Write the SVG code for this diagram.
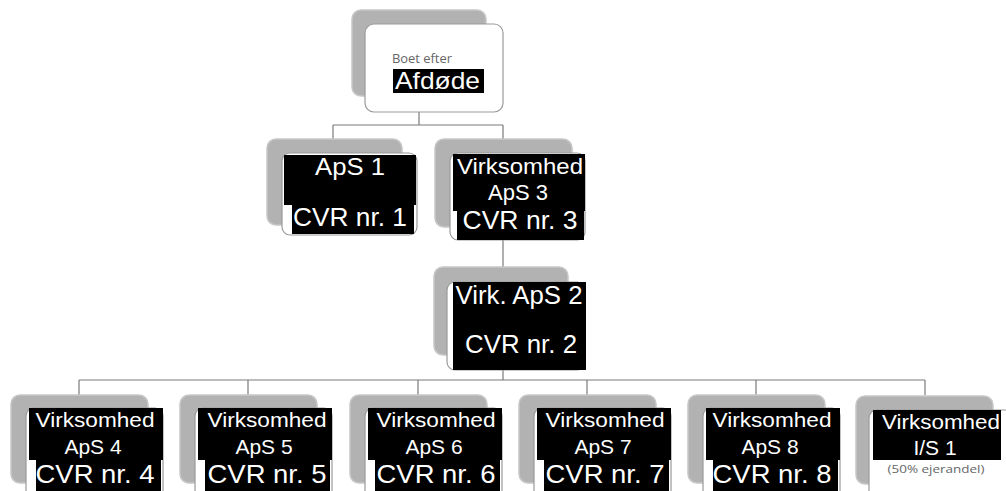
<svg xmlns="http://www.w3.org/2000/svg" width="1006" height="491" viewBox="0 0 1006 491">
<style>
.bg{fill:#ffffff}
.sh{fill:#b2b2b2;stroke:#c8c8c8;stroke-width:1.5}
.fr{fill:#ffffff;stroke:#9a9a9a;stroke-width:1.2}
.blk{fill:#000000}
.con{fill:none;stroke:#7a7a7a;stroke-width:1.2}
.t{font-family:"Liberation Sans",Arial,sans-serif;fill:#ffffff;text-anchor:middle}
.s{font-family:"Open Sans","Liberation Sans",sans-serif;fill:#666666;font-size:11px}
</style>
<rect class="bg" x="0" y="0" width="1006" height="491"/>
<g id="connectors">
<path class="con" d="M419 112V125M333 125H503M333 125V139M503 125V153"/>
<path class="con" d="M503 240V267"/>
<path class="con" d="M503 370V380M79 380H925M79 380V395M248 380V395M418 380V395M587 380V395M756 380V395M925 380V395"/>
</g>
<g id="node-afdoede">
<rect class="sh" x="352" y="10" width="134" height="86" rx="9"/>
<rect class="fr" x="365" y="24" width="138" height="88" rx="9"/>
<text class="s" x="392" y="63" textLength="60" lengthAdjust="spacingAndGlyphs" style="font-size:12px">Boet efter</text>
<rect class="blk" x="393" y="69" width="91" height="24"/>
<text class="t" x="437.5" y="89" font-size="24" textLength="85" lengthAdjust="spacingAndGlyphs">Afdøde</text>
</g>
<g id="node-aps1">
<rect class="sh" x="267" y="139" width="135" height="86" rx="9"/>
<rect class="fr" x="282" y="153" width="135" height="82" rx="8"/>
<rect class="blk" x="284" y="155" width="132" height="50"/>
<rect class="blk" x="292" y="204" width="122" height="30"/>
<text class="t" x="350" y="175" font-size="24" textLength="70" lengthAdjust="spacingAndGlyphs">ApS 1</text>
<text class="t" x="350" y="226" font-size="26" textLength="114" lengthAdjust="spacingAndGlyphs">CVR nr. 1</text>
</g>
<g id="node-aps3">
<rect class="sh" x="435" y="139" width="137" height="88" rx="9"/>
<rect class="fr" x="450" y="153" width="135" height="87" rx="8"/>
<rect class="blk" x="453" y="154" width="132" height="57"/>
<rect class="blk" x="457" y="210" width="127" height="30"/>
<text class="t" x="520" y="174" font-size="22" textLength="126" lengthAdjust="spacingAndGlyphs">Virksomhed</text>
<text class="t" x="518" y="200" font-size="22">ApS 3</text>
<text class="t" x="520" y="229" font-size="26" textLength="115" lengthAdjust="spacingAndGlyphs">CVR nr. 3</text>
</g>
<g id="node-aps2">
<rect class="sh" x="434" y="267" width="134" height="88" rx="9"/>
<rect class="fr" x="447" y="282" width="138" height="88" rx="8"/>
<rect class="blk" x="453" y="282" width="133" height="88"/>
<text class="t" x="519" y="304" font-size="25" textLength="127" lengthAdjust="spacingAndGlyphs">Virk. ApS 2</text>
<text class="t" x="521" y="353" font-size="25" textLength="112" lengthAdjust="spacingAndGlyphs">CVR nr. 2</text>
</g>
<g id="node-aps4">
<rect class="sh" x="11" y="395" width="137" height="88" rx="9"/>
<rect class="fr" x="26" y="408" width="137" height="92" rx="8"/>
<rect class="blk" x="29" y="408" width="134" height="52"/>
<rect class="blk" x="36" y="459" width="125" height="32"/>
<text class="t" x="95" y="427" font-size="21" textLength="119" lengthAdjust="spacingAndGlyphs">Virksomhed</text>
<text class="t" x="93" y="454" font-size="21">ApS 4</text>
<text class="t" x="95" y="483" font-size="25" textLength="119" lengthAdjust="spacingAndGlyphs">CVR nr. 4</text>
</g>
<g id="node-aps5">
<rect class="sh" x="180" y="395" width="137" height="88" rx="9"/>
<rect class="fr" x="195" y="408" width="137" height="92" rx="8"/>
<rect class="blk" x="198" y="408" width="134" height="52"/>
<rect class="blk" x="205" y="459" width="125" height="32"/>
<text class="t" x="267" y="427" font-size="21" textLength="119" lengthAdjust="spacingAndGlyphs">Virksomhed</text>
<text class="t" x="264" y="454" font-size="21">ApS 5</text>
<text class="t" x="267" y="483" font-size="25" textLength="119" lengthAdjust="spacingAndGlyphs">CVR nr. 5</text>
</g>
<g id="node-aps6">
<rect class="sh" x="350" y="395" width="137" height="88" rx="9"/>
<rect class="fr" x="365" y="408" width="137" height="92" rx="8"/>
<rect class="blk" x="368" y="408" width="134" height="52"/>
<rect class="blk" x="375" y="459" width="125" height="32"/>
<text class="t" x="436" y="427" font-size="21" textLength="119" lengthAdjust="spacingAndGlyphs">Virksomhed</text>
<text class="t" x="434" y="454" font-size="21">ApS 6</text>
<text class="t" x="436" y="483" font-size="25" textLength="119" lengthAdjust="spacingAndGlyphs">CVR nr. 6</text>
</g>
<g id="node-aps7">
<rect class="sh" x="519" y="395" width="137" height="88" rx="9"/>
<rect class="fr" x="534" y="408" width="137" height="92" rx="8"/>
<rect class="blk" x="537" y="408" width="134" height="52"/>
<rect class="blk" x="544" y="459" width="125" height="32"/>
<text class="t" x="605" y="427" font-size="21" textLength="119" lengthAdjust="spacingAndGlyphs">Virksomhed</text>
<text class="t" x="603" y="454" font-size="21">ApS 7</text>
<text class="t" x="605" y="483" font-size="25" textLength="119" lengthAdjust="spacingAndGlyphs">CVR nr. 7</text>
</g>
<g id="node-aps8">
<rect class="sh" x="688" y="395" width="137" height="88" rx="9"/>
<rect class="fr" x="703" y="408" width="137" height="92" rx="8"/>
<rect class="blk" x="706" y="408" width="134" height="52"/>
<rect class="blk" x="713" y="459" width="125" height="32"/>
<text class="t" x="772" y="427" font-size="21" textLength="119" lengthAdjust="spacingAndGlyphs">Virksomhed</text>
<text class="t" x="770" y="454" font-size="21">ApS 8</text>
<text class="t" x="772" y="483" font-size="25" textLength="119" lengthAdjust="spacingAndGlyphs">CVR nr. 8</text>
</g>
<g id="node-is1">
<rect class="sh" x="856" y="396" width="137" height="88" rx="9"/>
<rect class="fr" x="869" y="410" width="145" height="92" rx="8"/>
<rect class="blk" x="873" y="410" width="128" height="50"/>
<text class="t" x="941" y="429" font-size="21" textLength="118" lengthAdjust="spacingAndGlyphs">Virksomhed</text>
<text class="t" x="935" y="455" font-size="21">I/S 1</text>
<text class="s" x="936" y="473" text-anchor="middle" textLength="97" lengthAdjust="spacingAndGlyphs">(50% ejerandel)</text>
</g>
</svg>
